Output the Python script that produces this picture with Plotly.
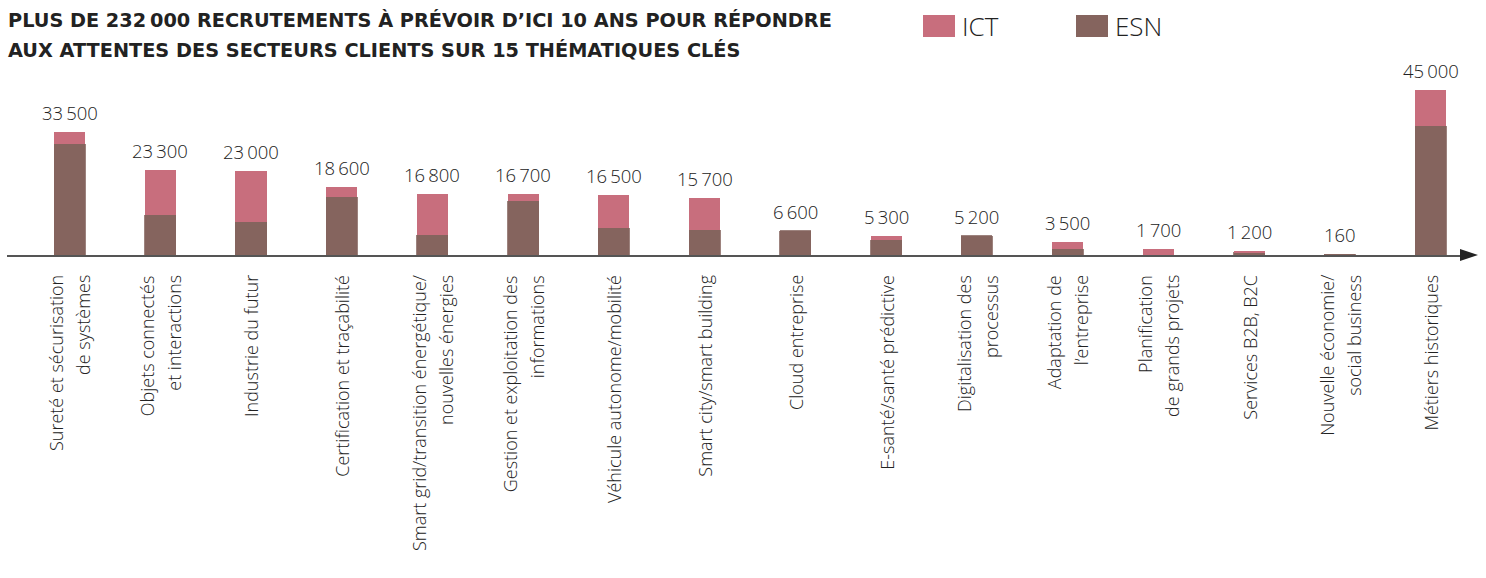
import plotly.graph_objects as go

# ---- data ----
label_lines = [
    ["Sureté et sécurisation", "de systèmes"],
    ["Objets connectés", "et interactions"],
    ["Industrie du futur"],
    ["Certification et traçabilité"],
    ["Smart grid/transition énergétique/", "nouvelles énergies"],
    ["Gestion et exploitation des", "informations"],
    ["Véhicule autonome/mobilité"],
    ["Smart city/smart building"],
    ["Cloud entreprise"],
    ["E-santé/santé prédictive"],
    ["Digitalisation des", "processus"],
    ["Adaptation de", "l’entreprise"],
    ["Planification", "de grands projets"],
    ["Services B2B, B2C"],
    ["Nouvelle économie/", "social business"],
    ["Métiers historiques"],
]
categories = [" ".join(l) for l in label_lines]
esn = [30300, 10900, 9000, 15800, 5500, 14700, 7400, 6800, 6600, 4100, 5200, 1700, 0, 800, 160, 35200]
ict = [3200, 12400, 14000, 2800, 11300, 2000, 9100, 8900, 0, 1200, 0, 1800, 1700, 400, 0, 9800]
totals = [33500, 23300, 23000, 18600, 16800, 16700, 16500, 15700, 6600, 5300, 5200, 3500, 1700, 1200, 160, 45000]
title_lines = [
    "PLUS DE 232\u2009000 RECRUTEMENTS À PRÉVOIR D’ICI 10 ANS POUR RÉPONDRE",
    "AUX ATTENTES DES SECTEURS CLIENTS SUR 15 THÉMATIQUES CLÉS",
]
series_names = ["ICT", "ESN"]

# ---- style ----
PINK = "#C86E7D"
BROWN = "#85645E"
TXT = "#222222"
FONT = "Open Sans"
TITLE_FONT = "DejaVu Sans"

def fmt(v):
    s = f"{v:,}"
    return s.replace(",", "\u2009")

fig = go.Figure()
fig.add_trace(go.Bar(x=categories, y=esn, name="ESN", marker=dict(color=BROWN, line=dict(color=BROWN, width=0.8)),
                     width=0.342, showlegend=False))
fig.add_trace(go.Bar(x=categories, y=ict, name="ICT", marker=dict(color=PINK, line=dict(width=0)),
                     width=0.342, showlegend=False))

annotations = []
# value labels
for c, t in zip(categories, totals):
    annotations.append(dict(x=c, y=t, xref="x", yref="y", text=fmt(t), showarrow=False,
                            yanchor="bottom", xanchor="center", yshift=5,
                            font=dict(family=FONT, size=18.5, color=TXT, weight=300)))
# category labels (rotated)
for c, lines in zip(categories, label_lines):
    n = len(lines)
    for k, line in enumerate(lines):
        shift = (k - (n - 1) / 2) * 27
        annotations.append(dict(x=c, y=0, xref="x", yref="paper", text=line, showarrow=False,
                                textangle=-90, yanchor="top", xanchor="center",
                                xshift=shift, yshift=-18,
                                font=dict(family=FONT, size=18, color=TXT, weight=300)))
# title
for k, line in enumerate(title_lines):
    annotations.append(dict(x=0, y=1, xref="paper", yref="paper", text="<b>" + line + "</b>",
                            showarrow=False, xanchor="left", yanchor="middle",
                            xshift=-1, yshift=52 - 30 * k,
                            font=dict(family=TITLE_FONT, size=19.3, color=TXT)))
# legend text
leg_x = {"ICT": 953, "ESN": 1106}
for nm in series_names:
    annotations.append(dict(x=0, y=1, xref="paper", yref="paper", text=nm, showarrow=False,
                            xanchor="left", yanchor="middle", xshift=leg_x[nm], yshift=46,
                            font=dict(family=FONT, size=26, color=TXT, weight=300)))

shapes = []
leg_rect = {"ICT": (916, PINK), "ESN": (1069, BROWN)}
for nm in series_names:
    x0, col = leg_rect[nm]
    shapes.append(dict(type="rect", xref="paper", yref="paper", xsizemode="pixel", ysizemode="pixel",
                       xanchor=0, yanchor=1, x0=x0, x1=x0 + 32, y0=35, y1=57,
                       fillcolor=col, line=dict(width=0)))
# axis arrow
shapes.append(dict(type="path", xref="paper", yref="paper", xsizemode="pixel", ysizemode="pixel",
                   xanchor=1, yanchor=0, path="M -2,-6 L 16,0 L -2,6 Z",
                   fillcolor="#222222", line=dict(width=0)))

fig.update_layout(
    width=1486, height=578,
    margin=dict(l=7, r=24, t=72, b=323, autoexpand=False),
    paper_bgcolor="white", plot_bgcolor="white",
    barmode="stack",
    showlegend=False,
    annotations=annotations,
    shapes=shapes,
    font=dict(family=FONT, color=TXT),
)
fig.update_xaxes(type="category", range=[-0.689, 15.346], showticklabels=False, showgrid=False,
                 zeroline=False, showline=True, linecolor="#555555", linewidth=1.5, ticks="")
fig.update_yaxes(range=[0, 50000], visible=False, showgrid=False, zeroline=False)

fig.write_html("out.html", config={"displayModeBar": False},
               post_script="document.body.style.margin='0';document.body.style.padding='0';")
